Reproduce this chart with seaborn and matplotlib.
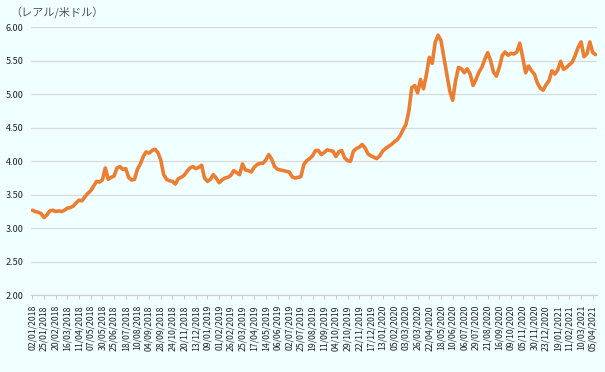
#!/usr/bin/env python3
"""
Purpose: BRL/USD exchange rate line chart (reais per US dollar)
"""

import numpy as np
import pandas as pd
import matplotlib
matplotlib.use('Agg')
import matplotlib.pyplot as plt
import seaborn as sns

# tick labels, one every 4 data points
tick_labels = [
    '02/01/2018', '25/01/2018', '20/02/2018', '16/03/2018', '11/04/2018',
    '07/05/2018', '30/05/2018', '25/06/2018', '18/07/2018', '10/08/2018',
    '04/09/2018', '28/09/2018', '24/10/2018', '20/11/2018', '13/12/2018',
    '09/01/2019', '01/02/2019', '26/02/2019', '25/03/2019', '17/04/2019',
    '14/05/2019', '06/06/2019', '02/07/2019', '25/07/2019', '19/08/2019',
    '11/09/2019', '04/10/2019', '29/10/2019', '22/11/2019', '17/12/2019',
    '13/01/2020', '05/02/2020', '03/03/2020', '26/03/2020', '22/04/2020',
    '18/05/2020', '10/06/2020', '06/07/2020', '29/07/2020', '21/08/2020',
    '16/09/2020', '09/10/2020', '05/11/2020', '30/11/2020', '23/12/2020',
    '19/01/2021', '11/02/2021', '10/03/2021', '05/04/2021',
]

# reais per dollar (4 readings per label interval)
rates = [
    3.27, 3.25, 3.24, 3.22, 3.16, 3.20, 3.26, 3.27, 3.25, 3.26,
    3.25, 3.27, 3.30, 3.31, 3.33, 3.38, 3.42, 3.41, 3.47, 3.52,
    3.56, 3.63, 3.70, 3.69, 3.72, 3.90, 3.73, 3.76, 3.78, 3.90,
    3.92, 3.88, 3.89, 3.76, 3.72, 3.73, 3.88, 3.96, 4.07, 4.14,
    4.12, 4.16, 4.18, 4.13, 4.02, 3.80, 3.73, 3.71, 3.70, 3.66,
    3.74, 3.76, 3.79, 3.85, 3.90, 3.92, 3.89, 3.91, 3.94, 3.75,
    3.70, 3.73, 3.80, 3.75, 3.68, 3.72, 3.75, 3.76, 3.79, 3.86,
    3.83, 3.80, 3.96, 3.87, 3.86, 3.84, 3.91, 3.95, 3.97, 3.97,
    4.02, 4.10, 4.03, 3.92, 3.88, 3.87, 3.86, 3.85, 3.84, 3.77,
    3.75, 3.76, 3.77, 3.95, 4.01, 4.04, 4.08, 4.16, 4.16, 4.10,
    4.13, 4.17, 4.16, 4.15, 4.07, 4.14, 4.16, 4.05, 4.01, 4.00,
    4.15, 4.19, 4.21, 4.25, 4.20, 4.11, 4.08, 4.06, 4.04, 4.08,
    4.15, 4.19, 4.22, 4.25, 4.29, 4.32, 4.38, 4.47, 4.55, 4.75,
    5.10, 5.13, 5.02, 5.22, 5.08, 5.29, 5.55, 5.46, 5.77, 5.88,
    5.80, 5.55, 5.30, 5.05, 4.91, 5.20, 5.40, 5.38, 5.32, 5.38,
    5.30, 5.13, 5.22, 5.33, 5.40, 5.52, 5.62, 5.50, 5.33, 5.27,
    5.40, 5.58, 5.63, 5.58, 5.61, 5.60, 5.63, 5.76, 5.55, 5.32,
    5.42, 5.35, 5.30, 5.17, 5.09, 5.06, 5.14, 5.20, 5.35, 5.30,
    5.36, 5.49, 5.37, 5.40, 5.44, 5.48, 5.58, 5.70, 5.78, 5.56,
    5.60, 5.78, 5.62, 5.59,
]

y_ticks = [2.0, 2.5, 3.0, 3.5, 4.0, 4.5, 5.0, 5.5, 6.0]

# --------------------------------------------------
sns.set_style('white')
plt.rcParams['font.family'] = ['Noto Sans CJK JP', 'DejaVu Sans']

bg = '#F0FFFF'
df = pd.DataFrame({'pos': np.arange(len(rates)), 'rate': rates})

fig = plt.figure(figsize=(6.05, 3.72), dpi=100, facecolor=bg)
ax = fig.add_axes([0.052, 0.206, 0.935, 0.721], facecolor=bg)

sns.lineplot(data=df, x='pos', y='rate', ax=ax, color='#ED7D31',
             linewidth=2.6)

ax.set_ylim(2.0, 6.0)
ax.set_xlim(-0.3, len(rates) - 0.5)
ax.set_yticks(y_ticks)
ax.set_yticklabels([f'{v:.2f}' for v in y_ticks], fontsize=6.5,
                   color='#222222')
ax.yaxis.grid(True, color='#D9D9D9', linewidth=0.9)
ax.set_axisbelow(True)

ax.set_xticks(np.arange(0, 4 * len(tick_labels), 4))
ax.set_xticklabels(tick_labels, rotation=90, fontsize=6.3, color='#222222')
ax.tick_params(axis='x', length=3, width=0.6, color='#BFBFBF', pad=4,
               direction='out', bottom=True)
ax.tick_params(axis='y', length=0, pad=6)

for side in ['top', 'right', 'left']:
    ax.spines[side].set_visible(False)
ax.spines['bottom'].set_color('#D0D0D0')
ax.spines['bottom'].set_linewidth(0.9)

ax.set_xlabel('')
ax.set_ylabel('')

fig.text(0.017, 0.965, '（レアル/米ドル）', fontsize=8, color='#555555',
         ha='left', va='center')

fig.savefig('out.png', dpi=100, facecolor=bg)
